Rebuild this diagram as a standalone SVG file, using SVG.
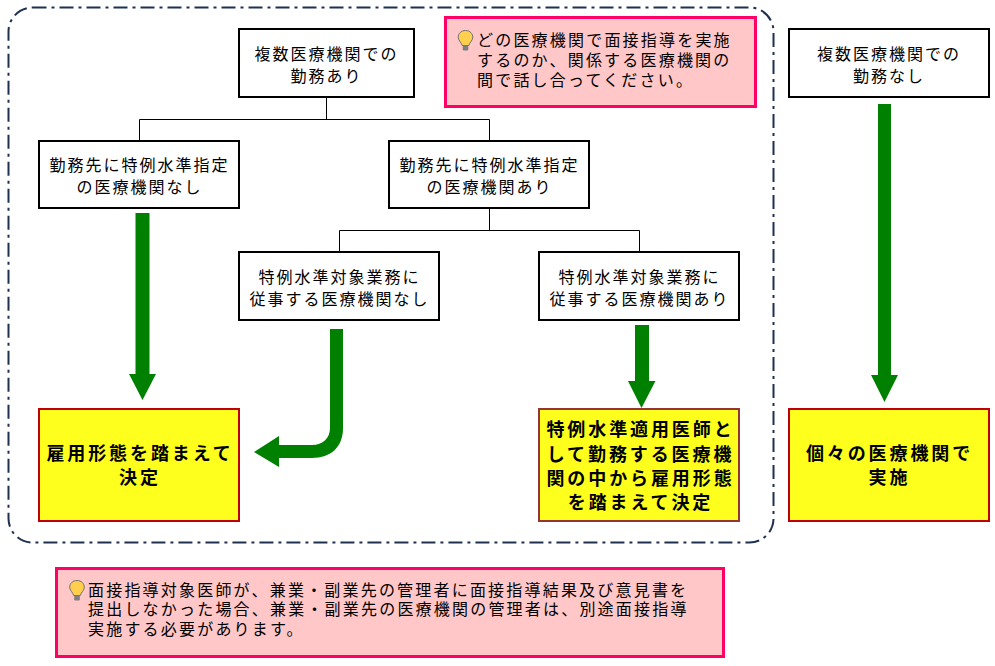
<svg xmlns="http://www.w3.org/2000/svg" width="995" height="666" viewBox="0 0 995 666">
<defs>
<style>
text{font-family:"Noto Sans CJK JP","Liberation Sans",sans-serif;fill:#000}
.n{font-size:16px;letter-spacing:2px;text-anchor:middle}
.b{font-size:18px;font-weight:700;letter-spacing:2.900px;text-anchor:middle}
.m{font-size:16px;letter-spacing:2.200px}
.box{fill:#fff;stroke:#000;stroke-width:2}
.y{fill:#ffff1e;stroke-width:2}
.note{fill:#ffc7c7;stroke:#ff0066;stroke-width:3}
.c{fill:none;stroke:#000;stroke-width:1}
.a{fill:#008000}
.bulb{fill:#ffcf4d;stroke:#6f6f6f;stroke-width:1}
</style>
<g id="bulbdef"><path class="bulb" d="M0 -9.500C-4.500 -9.500 -7.300 -6.300 -7.300 -2.800C-7.300 0.500 -4 2.500 -3.300 5.500L3.300 5.500C4 2.500 7.300 0.500 7.300 -2.800C7.300 -6.300 4.500 -9.500 0 -9.500Z"/><rect x="-2.800" y="5.500" width="5.600" height="5" rx="1.200" fill="#7f7f7f"/></g>
</defs>
<rect id="frame" x="8.500" y="7.500" width="765" height="535" rx="24" fill="none" stroke="#1f3050" stroke-width="2" stroke-dasharray="14 5 3 5"/>
<g id="connectors">
<path class="c" d="M326.500 97V119.500M139.500 140V119.500H489.500V140M489.500 208V230.500M339.500 251V230.500H639.500V251"/>
<path class="a" d="M135.500 213H149.500V374H156L142.500 400L129 374H135.500Z"/>
<path class="a" d="M635 325H649V381H655.500L641.500 408L628 381H635Z"/>
<path class="a" d="M878 104H891V375H898L884.500 402L871 375H878Z"/>
<path class="a" d="M330 329H343V428C343 447 331 458 312 458H279V467L254 452L279 436V445H312C323 445 330 438 330 428Z"/>
</g>
<g id="n1"><rect class="box" x="239" y="29" width="175" height="68"/><text class="n" x="326.500" y="60">複数医療機関での</text><text class="n" x="326.500" y="82">勤務あり</text></g>
<g id="n2"><rect class="box" x="39" y="141" width="200" height="67"/><text class="n" x="139.500" y="171">勤務先に特例水準指定</text><text class="n" x="139.500" y="193">の医療機関なし</text></g>
<g id="n3"><rect class="box" x="389" y="141" width="200" height="67"/><text class="n" x="489.500" y="171">勤務先に特例水準指定</text><text class="n" x="489.500" y="193">の医療機関あり</text></g>
<g id="n4"><rect class="box" x="239" y="252" width="200" height="68"/><text class="n" x="339.500" y="283">特例水準対象業務に</text><text class="n" x="339.500" y="305">従事する医療機関なし</text></g>
<g id="n5"><rect class="box" x="539" y="252" width="200" height="68"/><text class="n" x="639.500" y="283">特例水準対象業務に</text><text class="n" x="639.500" y="305">従事する医療機関あり</text></g>
<g id="n6"><rect class="box" x="789" y="29" width="200" height="68"/><text class="n" x="889" y="60">複数医療機関での</text><text class="n" x="889" y="82">勤務なし</text></g>
<g id="r1"><rect class="y" stroke="#c00000" x="39" y="409" width="200" height="112"/><text class="b" x="140" y="460">雇用形態を踏まえて</text><text class="b" x="140" y="484">決定</text></g>
<g id="r2"><rect class="y" stroke="#943634" x="539" y="409" width="200" height="112"/><text class="b" x="640.500" y="436">特例水準適用医師と</text><text class="b" x="640.500" y="461">して勤務する医療機</text><text class="b" x="640.500" y="485">関の中から雇用形態</text><text class="b" x="640.500" y="509">を踏まえて決定</text></g>
<g id="r3"><rect class="y" stroke="#c00000" x="789" y="409" width="200" height="112"/><text class="b" x="889.500" y="460">個々の医療機関で</text><text class="b" x="889.500" y="484">実施</text></g>
<g id="note1"><rect class="note" x="445.500" y="17.500" width="310" height="89"/><use href="#bulbdef" x="465.500" y="40"/><text class="m" x="477" y="46">どの医療機関で面接指導を実施</text><text class="m" x="477" y="66">するのか、関係する医療機関の</text><text class="m" x="477" y="86">間で話し合ってください。</text></g>
<g id="note2"><rect class="note" x="56.500" y="568.500" width="667" height="88"/><use href="#bulbdef" x="77" y="590"/><text class="m" x="88" y="596">面接指導対象医師が、兼業・副業先の管理者に面接指導結果及び意見書を</text><text class="m" x="88" y="615">提出しなかった場合、兼業・副業先の医療機関の管理者は、別途面接指導</text><text class="m" x="88" y="635">実施する必要があります。</text></g>
</svg>
